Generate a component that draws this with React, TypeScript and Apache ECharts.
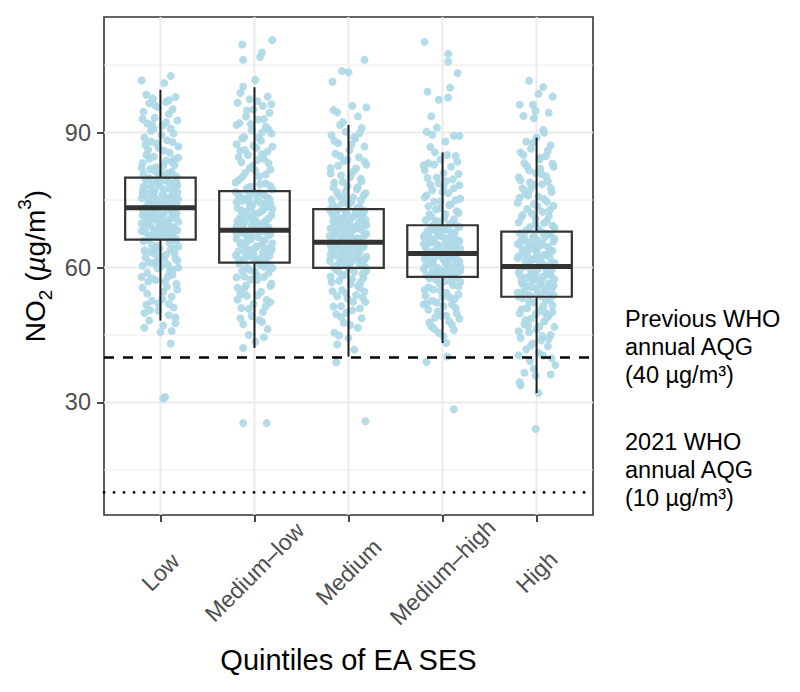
import React, { useEffect, useRef } from 'react';
import * as echarts from 'echarts';

const categories = ['Low', 'Medium–low', 'Medium', 'Medium–high', 'High'];

// Box statistics per category
const lowerWhisker = [48.2, 42.1, 40.2, 43.2, 32.1];
const q1 = [66.2, 61.1, 59.9, 57.9, 53.5];
const median = [73.3, 68.3, 65.6, 63.1, 60.2];
const q3 = [80.0, 77.0, 73.0, 69.4, 68.0];
const upperWhisker = [99.5, 100.1, 91.7, 85.6, 88.9];

const yTicks = [30, 60, 90];
const yMinor = [15, 45, 75, 105];
const xTicks = [1, 2, 3, 4, 5];
const whoPrevious = 40;
const who2021 = 10;

// jittered points: [horizontal jitter in hundredths of a category, NO2 value]
const lowPts = [
  [-20, 101.6], [11, 102.6], [4, 101.0], [-15, 98.4], [-8, 97.6], [16, 97.9], [-12, 96.5], [6, 96.8], [-3, 95.7], [13, 95.2],
  [-18, 94.6], [9, 94.1], [-6, 93.3], [18, 92.7], [-14, 92.0], [2, 91.5], [-10, 90.4], [14, 89.8], [-17, 88.9], [7, 88.3],
  [-4, 87.6], [19, 86.9], [-13, 86.2], [10, 85.5], [-7, 84.7], [15, 84.1], [-19, 83.2], [3, 82.6], [-11, 81.9], [12, 81.3],
  [-2, 80.6], [17, 80.2],
  [-16, 79.7], [5, 79.4], [-9, 79.0], [14, 78.6], [-1, 78.3], [-18, 77.9], [10, 77.5], [-6, 77.1], [18, 76.8], [-13, 76.4],
  [2, 76.1], [12, 75.7], [-20, 75.4], [-4, 75.0], [8, 74.7], [16, 74.4], [-11, 74.1], [0, 73.8], [-15, 73.5], [6, 73.9],
  [-8, 76.6], [15, 77.8], [-3, 79.2], [19, 75.2], [-17, 78.1], [11, 73.6], [-12, 79.9], [3, 74.6], [-19, 76.9], [9, 78.9],
  [-14, 73.0], [7, 72.7], [-5, 72.3], [17, 72.0], [-19, 71.6], [1, 71.3], [11, 70.9], [-10, 70.6], [19, 70.2], [-2, 69.9],
  [-16, 69.5], [8, 69.2], [14, 68.8], [-7, 68.5], [-20, 68.1], [4, 67.8], [12, 67.4], [-12, 67.1], [-1, 66.8], [16, 66.5],
  [-9, 71.9], [5, 70.4], [-17, 72.5], [13, 69.0], [-4, 67.6], [18, 68.3], [-13, 70.0], [9, 66.3], [-6, 73.1], [2, 69.6],
  [-18, 65.9], [10, 65.4], [-3, 64.8], [15, 64.2], [-11, 63.5], [6, 62.9], [-16, 62.2], [18, 61.6], [-7, 60.9], [1, 60.3],
  [13, 59.5], [-14, 58.8], [8, 58.0], [-5, 57.2], [17, 56.4], [-19, 55.5], [3, 54.6], [12, 53.5], [-9, 52.6], [-15, 51.7],
  [14, 51.1], [-2, 50.4], [9, 49.4], [-12, 48.2], [16, 47.6], [0, 45.6], [11, 43.1], [-17, 46.6], [5, 31.2], [3, 30.9],
  [-6, 63.9], [19, 60.0], [-20, 57.9], [7, 55.7],
  [-10, 88.0], [4, 86.0], [-15, 85.0], [12, 83.5], [-5, 82.3], [8, 81.0], [-18, 80.8], [17, 79.1], [-8, 74.3], [13, 72.2],
  [-14, 71.0], [4, 68.0], [-9, 65.0], [15, 63.0], [-4, 61.5], [10, 59.2], [-13, 56.9], [2, 53.0], [-7, 90.8], [6, 92.3],
  [-1, 62.5], [17, 66.0],
  [-19, 93.0], [-9, 91.8], [1, 89.5], [11, 90.9], [-16, 87.3], [-2, 86.6], [13, 87.9], [19, 84.4], [-12, 84.2], [6, 83.8],
  [-20, 82.1], [-6, 81.5], [15, 82.8], [1, 80.9], [-14, 79.6], [9, 80.4], [-3, 78.8], [18, 78.3], [-10, 77.7], [4, 77.3],
  [-18, 76.3], [13, 76.2], [-7, 75.8], [7, 75.5], [-13, 74.9], [17, 74.0], [-1, 73.4], [-19, 72.9], [12, 72.6], [-9, 72.1],
  [3, 71.8], [-15, 71.3], [16, 71.1], [-5, 70.7], [8, 70.1], [-20, 69.8], [-11, 69.3], [1, 68.9], [15, 68.6], [-3, 68.2],
  [-16, 67.9], [10, 67.7], [-8, 67.0], [6, 66.7], [-13, 66.2], [19, 64.6], [-1, 64.3], [11, 64.0], [-17, 63.8], [-7, 63.1],
  [4, 62.0], [16, 61.9], [-12, 61.2], [8, 60.6], [-19, 60.4], [-3, 59.8], [13, 58.4], [-9, 57.6], [5, 56.9], [18, 55.1],
  [-14, 54.2], [-2, 52.0], [9, 51.9], [-11, 50.5], [16, 48.9], [-17, 49.9], [3, 47.1], [12, 45.9], [-6, 96.1], [9, 97.2],
];

const mediumLowPts = [
  [-13, 109.6], [19, 110.6], [-12, 106.2], [6, 106.8], [8, 107.8], [1, 101.7], [-12, 100.2], [14, 98.0], [-5, 97.4], [-18, 96.6],
  [9, 95.9], [-1, 95.1], [16, 94.4], [-9, 93.6], [4, 92.9], [-16, 92.1], [12, 91.3], [-3, 90.5], [18, 89.8], [-11, 89.0],
  [7, 88.2], [-19, 87.4], [2, 86.6], [14, 85.8], [-7, 85.0], [10, 84.2], [-14, 83.4], [-2, 82.6], [17, 81.8], [-10, 81.0],
  [5, 80.2], [-17, 79.4], [12, 78.7], [-4, 78.0], [19, 77.4], [-8, 77.1], [8, 90.0], [-15, 86.0], [3, 83.9],
  [-20, 76.8], [1, 76.4], [11, 76.0], [-6, 75.6], [16, 75.2], [-13, 74.8], [6, 74.4], [-2, 74.0], [14, 73.6], [-18, 73.2],
  [9, 72.8], [-9, 72.4], [3, 72.0], [18, 71.6], [-15, 71.2], [-4, 70.8], [12, 70.4], [-11, 70.0], [7, 69.6], [-19, 69.2],
  [15, 68.9], [0, 68.6], [-7, 75.0], [10, 73.0], [-16, 70.6], [5, 76.6], [-1, 71.9], [17, 74.2], [-12, 69.8], [13, 68.4],
  [-5, 73.8], [2, 70.2], [-17, 75.9],
  [8, 68.1], [-14, 67.8], [17, 67.5], [-3, 67.1], [4, 66.8], [-19, 66.4], [11, 66.1], [-8, 65.7], [19, 65.4], [-12, 65.0],
  [2, 64.7], [14, 64.3], [-6, 64.0], [-17, 63.6], [9, 63.3], [-1, 62.9], [16, 62.6], [-10, 62.2], [5, 61.9], [-15, 61.5],
  [12, 61.3], [-4, 66.3], [7, 64.9], [-20, 62.7], [18, 63.9], [-9, 67.3], [1, 61.7], [-13, 65.5], [13, 67.9], [-7, 63.1],
  [-16, 60.8], [10, 60.2], [-5, 59.5], [15, 58.8], [-11, 58.0], [3, 57.2], [18, 56.4], [-18, 55.5], [7, 54.6], [-8, 53.7],
  [13, 52.8], [-1, 51.9], [-14, 51.0], [9, 50.1], [17, 52.3], [-3, 49.2], [5, 48.3], [-12, 47.4], [14, 46.3], [-6, 45.0],
  [10, 44.5], [-12, 42.1], [1, 43.5], [-12, 25.4], [13, 25.4], [-19, 57.8], [19, 59.9], [-9, 56.0], [6, 60.5], [-15, 54.0],
  [2, 58.4],
  [-15, 98.8], [3, 97.0], [18, 96.3], [-8, 94.9], [10, 93.0], [-19, 91.7], [-4, 91.9], [15, 90.7], [-13, 88.7], [4, 88.9],
  [-1, 87.1], [19, 86.9], [-10, 86.1], [8, 85.2], [-17, 84.6], [15, 83.2], [-5, 82.1], [1, 81.5], [12, 80.7], [-13, 80.1],
  [-20, 78.9], [6, 78.5], [17, 78.1], [-8, 77.6], [-2, 76.9], [9, 76.3], [-16, 76.1], [14, 75.5], [-10, 75.3], [3, 75.1],
  [-19, 74.5], [11, 74.1], [-4, 73.4], [19, 73.0], [-14, 72.7], [6, 72.3], [-8, 71.4], [15, 70.9], [0, 70.5], [-18, 70.3],
  [10, 69.9], [-3, 69.3], [-12, 68.7], [4, 68.3], [16, 67.2], [-19, 67.6], [-6, 66.6], [9, 65.8], [-15, 65.2], [1, 64.4],
  [18, 64.1], [-10, 63.8], [12, 62.8], [-3, 62.4], [-17, 61.8], [6, 61.1], [14, 60.6], [-8, 60.0], [0, 59.1], [-13, 59.2],
  [10, 57.9], [-4, 57.3], [17, 55.9], [-11, 55.3], [3, 53.8], [-18, 52.9], [12, 51.4], [-6, 50.8], [8, 47.9], [-15, 48.7],
];

const mediumPts = [
  [17, 106.2], [-7, 103.7], [0, 103.4], [-17, 101.3], [19, 95.6], [-16, 95.0], [-12, 94.5], [4, 95.9], [10, 93.6], [-9, 91.7],
  [14, 91.0], [-3, 90.2], [-18, 89.4], [7, 88.6], [-11, 87.7], [17, 86.9], [1, 86.1], [-14, 85.3], [11, 84.5], [-5, 83.7],
  [19, 82.9], [-19, 82.1], [5, 81.3], [-8, 80.5], [13, 79.7], [-15, 78.9], [-1, 78.1], [9, 77.4], [-12, 76.7], [16, 76.0],
  [-4, 75.3], [3, 74.6], [-17, 74.0], [12, 73.4], [-9, 84.8], [6, 89.0],
  [-20, 72.8], [8, 72.5], [-2, 72.2], [15, 71.9], [-13, 71.5], [4, 71.2], [-7, 70.9], [18, 70.6], [-16, 70.3], [11, 70.0],
  [0, 69.6], [-10, 69.3], [6, 69.0], [-19, 68.7], [14, 68.4], [-4, 68.0], [2, 67.7], [-14, 67.4], [17, 67.1], [-8, 66.8],
  [9, 66.5], [-1, 66.2], [-17, 65.9], [13, 65.7], [-5, 71.0], [10, 68.9], [-11, 72.9], [3, 66.6], [19, 69.4], [-15, 67.9],
  [7, 65.4], [-12, 65.1], [16, 64.8], [-3, 64.5], [-18, 64.2], [5, 63.9], [12, 63.6], [-9, 63.3], [0, 63.0], [-15, 62.7],
  [19, 62.4], [-6, 62.1], [9, 61.8], [-20, 61.5], [3, 61.2], [14, 60.9], [-11, 60.6], [-2, 60.3], [18, 60.0], [-7, 64.0],
  [11, 62.2], [-16, 63.6], [1, 61.4], [8, 64.9], [-13, 60.1], [15, 61.0], [-4, 62.9], [-19, 65.0],
  [-14, 59.6], [6, 59.0], [-4, 58.4], [16, 57.7], [-10, 57.0], [2, 56.3], [12, 55.5], [-17, 54.7], [8, 53.9], [-1, 53.1],
  [18, 52.3], [-8, 51.4], [4, 50.5], [-13, 49.6], [14, 48.7], [-5, 47.7], [10, 46.6], [-15, 45.5], [0, 44.3], [-12, 42.9],
  [6, 41.7], [-13, 38.9], [18, 25.8], [-19, 58.0], [13, 56.8], [-7, 55.0], [19, 59.2], [-2, 50.0], [15, 53.3],
  [-6, 92.3], [12, 89.9], [-15, 88.2], [3, 87.3], [-1, 84.0], [17, 83.6], [-11, 82.6], [8, 82.0], [-19, 80.9], [2, 80.1],
  [14, 79.2], [-6, 79.0], [-16, 77.8], [10, 77.9], [-3, 76.9], [18, 76.5], [-10, 75.9], [5, 75.6], [-18, 75.1], [13, 74.9],
  [-7, 74.3], [0, 73.9], [-13, 73.3], [9, 73.2], [17, 72.6], [-3, 72.4], [-17, 71.8], [7, 71.7], [13, 71.1], [-9, 70.7],
  [1, 70.4], [-15, 69.9], [16, 69.8], [-5, 69.2], [8, 68.6], [-12, 68.3], [3, 68.1], [19, 67.5], [-20, 67.0], [-6, 66.9],
  [11, 66.4], [-10, 65.8], [4, 65.2], [16, 64.6], [-14, 64.7], [-2, 64.2], [10, 63.4], [-19, 62.9], [6, 62.6], [-9, 62.0],
  [17, 61.7], [-4, 61.0], [12, 60.4], [-16, 60.2], [1, 59.8], [-11, 59.2], [15, 58.6], [-7, 58.2], [4, 57.4], [-18, 56.7],
  [10, 55.9], [-3, 54.3], [17, 54.6], [-12, 53.6], [5, 52.4], [-16, 51.3], [12, 50.9], [-8, 49.0], [2, 47.2], [-10, 44.9],
];

const mediumHighPts = [
  [-19, 110.2], [6, 107.5], [6, 105.8], [16, 103.2], [8, 100.0], [-16, 99.1], [6, 97.8], [-4, 97.3], [-12, 93.6], [-6, 91.1],
  [-17, 90.2], [-11, 89.5], [12, 89.3], [18, 89.3], [3, 88.0], [-8, 85.6], [14, 84.8], [-2, 84.0], [-15, 83.2], [9, 82.4],
  [-19, 81.6], [17, 80.8], [-6, 80.0], [4, 79.2], [-13, 78.4], [12, 77.6], [0, 76.8], [-17, 76.0], [19, 75.3], [-9, 74.6],
  [7, 73.9], [-3, 73.2], [15, 72.5], [-14, 71.8], [2, 71.1], [-7, 70.4], [10, 69.8], [-20, 82.7], [1, 78.0],
  [-11, 69.3], [18, 69.0], [-1, 68.7], [6, 68.4], [-16, 68.1], [13, 67.8], [-5, 67.5], [-19, 67.2], [9, 66.9], [2, 66.6],
  [-9, 66.3], [16, 66.0], [-14, 65.7], [4, 65.4], [11, 65.1], [-3, 64.8], [-18, 64.5], [19, 64.2], [-7, 63.9], [7, 63.6],
  [-12, 63.3], [0, 68.9], [14, 64.0], [-15, 66.7], [3, 63.5], [-20, 65.2], [10, 67.6], [-6, 68.2],
  [15, 63.0], [-4, 62.7], [-17, 62.4], [8, 62.1], [1, 61.8], [-10, 61.5], [18, 61.2], [-13, 60.9], [5, 60.6], [12, 60.3],
  [-6, 60.0], [-20, 59.7], [3, 59.4], [16, 59.1], [-9, 58.8], [10, 58.5], [-2, 58.2], [-15, 58.0], [7, 62.9], [-11, 61.0],
  [19, 60.1], [-1, 59.0], [13, 61.6], [-18, 60.4],
  [-14, 57.6], [9, 57.0], [-3, 56.4], [17, 55.8], [-10, 55.1], [4, 54.4], [-18, 53.7], [13, 53.0], [-6, 52.2], [1, 51.4],
  [-15, 50.6], [15, 49.8], [-8, 48.9], [7, 48.0], [-12, 47.0], [12, 46.1], [-4, 45.5], [4, 43.2], [5, 40.2], [-17, 39.0],
  [12, 28.5], [19, 56.8], [-19, 55.0], [0, 53.5], [10, 51.8], [-1, 49.2],
  [-13, 86.8], [5, 85.0], [16, 83.5], [-9, 82.9], [1, 81.0], [-16, 79.9], [11, 79.6], [-4, 78.7], [18, 78.3], [-11, 77.2],
  [6, 76.5], [-19, 75.6], [14, 75.0], [-2, 74.8], [9, 74.0], [-15, 73.6], [-7, 72.9], [17, 72.1], [3, 71.9], [-12, 71.3],
  [12, 70.7], [-18, 70.5], [-4, 70.1], [7, 69.6], [16, 69.2], [-9, 68.7], [1, 68.4], [-14, 67.9], [12, 67.3], [-2, 67.0],
  [-20, 66.8], [8, 66.4], [18, 65.9], [-12, 65.6], [-6, 65.1], [5, 64.7], [14, 64.4], [-16, 63.8], [0, 63.2], [10, 62.5],
  [-8, 62.3], [-19, 61.9], [17, 61.5], [3, 61.1], [-13, 60.7], [9, 60.0], [-4, 59.6], [19, 59.3], [-11, 59.0], [6, 58.7],
  [-17, 58.3], [14, 57.8], [-7, 57.3], [2, 56.9], [11, 56.1], [-15, 55.6], [-2, 54.9], [17, 54.0], [8, 53.3], [-11, 52.6],
  [-20, 51.8], [14, 51.0], [-5, 50.2], [4, 49.3], [-14, 47.8], [10, 47.3], [-9, 46.4], [1, 44.7], [18, 48.6], [-17, 52.0],
];

const highPts = [
  [-8, 101.5], [7, 100.1], [17, 98.0], [2, 98.6], [-18, 96.2], [-4, 96.2], [-1, 94.8], [13, 94.4], [-14, 93.7], [-3, 93.2],
  [7, 90.6], [8, 90.0], [0, 88.9], [-11, 88.0], [15, 87.2], [-6, 86.4], [-17, 85.6], [10, 84.8], [3, 84.0], [-13, 83.2],
  [18, 82.4], [-8, 81.6], [5, 80.8], [-19, 80.0], [12, 79.2], [-2, 78.4], [-15, 77.6], [16, 76.8], [-9, 76.0], [8, 75.2],
  [-20, 74.4], [1, 73.6], [14, 72.8], [-5, 72.0], [-16, 71.2], [11, 70.4], [-1, 69.6], [19, 68.8], [-11, 68.2], [4, 82.0],
  [-7, 78.9],
  [6, 67.9], [-18, 67.6], [15, 67.3], [-3, 67.0], [9, 66.7], [-13, 66.4], [1, 66.1], [18, 65.8], [-8, 65.5], [-20, 65.2],
  [4, 64.9], [12, 64.6], [-5, 64.3], [-15, 64.0], [17, 63.7], [0, 63.4], [-10, 63.1], [8, 62.8], [-19, 62.5], [14, 62.2],
  [-2, 61.9], [-12, 61.6], [5, 61.3], [19, 61.0], [-7, 60.7], [10, 60.4], [-16, 66.0], [3, 62.0], [-1, 65.0],
  [-14, 60.1], [2, 59.8], [16, 59.5], [-6, 59.2], [-19, 58.9], [11, 58.6], [-1, 58.3], [7, 58.0], [-11, 57.7], [19, 57.4],
  [-4, 57.1], [-16, 56.8], [13, 56.5], [4, 56.2], [-9, 55.9], [17, 55.6], [0, 55.3], [-13, 55.0], [9, 54.7], [-20, 54.4],
  [14, 54.1], [-7, 53.8], [5, 53.6], [-2, 57.5], [12, 55.8], [-17, 58.1], [18, 53.9],
  [-15, 53.2], [10, 52.7], [-3, 52.2], [17, 51.6], [-10, 51.0], [3, 50.4], [-18, 49.8], [13, 49.2], [-6, 48.6], [8, 48.0],
  [-13, 47.4], [19, 46.8], [0, 46.2], [-8, 45.6], [15, 45.0], [-17, 44.4], [5, 43.8], [-4, 43.1], [12, 42.5], [-11, 41.8],
  [2, 41.1], [-19, 40.5], [16, 39.8], [-7, 39.2], [20, 38.3], [-3, 37.5], [-13, 36.6], [15, 36.2], [-1, 36.0], [-18, 34.5],
  [-17, 33.8], [2, 32.1], [-1, 24.1], [9, 50.0], [-9, 47.0], [6, 44.8],
  [-4, 87.7], [12, 86.0], [-14, 85.0], [4, 84.4], [17, 83.1], [-10, 82.5], [-1, 81.0], [10, 80.3], [-17, 79.4], [6, 78.5],
  [-7, 77.3], [15, 77.7], [-12, 76.4], [2, 75.8], [-18, 75.5], [11, 74.6], [-3, 74.1], [18, 73.7], [-10, 73.0], [6, 72.4],
  [-15, 71.7], [13, 71.4], [-1, 70.9], [-19, 70.0], [8, 69.9], [17, 69.3], [-7, 69.0], [2, 68.5], [-13, 67.8], [12, 67.5],
  [-4, 66.8], [19, 66.4], [-17, 65.6], [6, 65.3], [-9, 64.8], [14, 63.9], [0, 63.7], [-14, 63.3], [10, 62.9], [-20, 62.1],
  [-5, 61.8], [16, 60.8], [3, 60.6], [-11, 60.3], [-18, 59.6], [11, 59.3], [-2, 58.8], [15, 58.3], [-8, 57.9], [5, 57.0],
  [-15, 56.4], [18, 56.0], [-5, 55.7], [9, 55.1], [-12, 54.5], [1, 54.2], [-19, 53.5], [14, 52.9], [-8, 52.4], [7, 51.5],
  [-16, 50.7], [17, 50.1], [-1, 49.6], [11, 48.8], [-12, 48.3], [3, 46.9], [-19, 45.8], [13, 44.1], [-6, 42.6], [7, 40.4],
];

const groupPoints = [lowPts, mediumLowPts, mediumPts, mediumHighPts, highPts];

const FONT = '"Liberation Sans", Arial, Helvetica, sans-serif';

export default function App() {
  const ref = useRef<HTMLDivElement>(null);

  useEffect(() => {
    if (!ref.current) return;
    const chart = echarts.init(ref.current, null, { renderer: 'svg' });

    const scatterData: number[][] = [];
    groupPoints.forEach((pts, i) => {
      pts.forEach(([dx, v]) => scatterData.push([i + 1 + dx / 100, v]));
    });

    const boxData = categories.map((_, i) => [
      i + 1, lowerWhisker[i], q1[i], median[i], q3[i], upperWhisker[i],
    ]);

    const hLine = (color: string, width: number, dash?: number[], cap?: string) =>
      (params: any, api: any) => {
        const cs = params.coordSys;
        const y = api.coord([1, api.value(1)])[1];
        return {
          type: 'line',
          shape: { x1: cs.x, y1: y, x2: cs.x + cs.width, y2: y },
          style: { stroke: color, lineWidth: width, lineDash: dash, lineCap: cap || 'butt' },
        };
      };

    const vLine = (color: string, width: number) => (params: any, api: any) => {
      const cs = params.coordSys;
      const x = api.coord([api.value(0), 60])[0];
      return {
        type: 'line',
        shape: { x1: x, y1: cs.y, x2: x, y2: cs.y + cs.height },
        style: { stroke: color, lineWidth: width },
      };
    };

    const option: any = {
      animation: false,
      backgroundColor: '#ffffff',
      grid: {
        left: 104, top: 17, width: 489, height: 498,
        show: true, borderColor: '#333333', borderWidth: 1.6, backgroundColor: 'transparent',
      },
      xAxis: {
        type: 'value',
        min: 0.4,
        max: 5.6,
        axisLine: { show: false },
        splitLine: { show: false },
        axisTick: {
          show: true, customValues: xTicks, length: 7, inside: false,
          lineStyle: { color: '#333333', width: 1.8 },
        },
        axisLabel: {
          customValues: xTicks,
          formatter: (v: number) => categories[Math.round(v) - 1] || '',
          rotate: 45,
          align: 'center',
          verticalAlign: 'middle',
          margin: 57,
          fontSize: 23,
          color: '#4d4d4d',
          fontFamily: FONT,
        },
        name: 'Quintiles of EA SES',
        nameLocation: 'middle',
        nameGap: 130,
        nameTextStyle: { fontSize: 29, color: '#000000', fontFamily: FONT },
      },
      yAxis: {
        type: 'value',
        min: 4.97,
        max: 115.7,
        axisLine: { show: false },
        splitLine: { show: false },
        axisTick: {
          show: true, customValues: yTicks, length: 7,
          lineStyle: { color: '#333333', width: 1.8 },
        },
        axisLabel: {
          customValues: yTicks,
          margin: 13,
          fontSize: 23.5,
          color: '#4d4d4d',
          fontFamily: FONT,
        },
      },
      series: [
        {
          type: 'custom', z: 0, silent: true,
          data: yMinor.map((v) => [1, v]),
          encode: { x: 0, y: 1 },
          renderItem: hLine('#ebebeb', 1),
        },
        {
          type: 'custom', z: 0, silent: true,
          data: yTicks.map((v) => [1, v]),
          encode: { x: 0, y: 1 },
          renderItem: hLine('#ebebeb', 2),
        },
        {
          type: 'custom', z: 0, silent: true,
          data: xTicks.map((v) => [v, 60]),
          encode: { x: 0, y: 1 },
          renderItem: vLine('#ebebeb', 2),
        },
        {
          type: 'scatter', z: 2, silent: true,
          symbol: 'circle', symbolSize: 8,
          itemStyle: { color: '#add8e6', opacity: 0.92 },
          data: scatterData,
        },
        {
          type: 'custom', z: 3, silent: true,
          data: boxData,
          encode: { x: 0, y: [1, 2, 3, 4, 5] },
          renderItem: (params: any, api: any) => {
            const x = api.value(0);
            const lo = api.coord([x, api.value(1)]);
            const b1 = api.coord([x, api.value(2)]);
            const md = api.coord([x, api.value(3)]);
            const b3 = api.coord([x, api.value(4)]);
            const hi = api.coord([x, api.value(5)]);
            const w = api.size([0.75, 0])[0];
            const cx = lo[0];
            const left = cx - w / 2;
            return {
              type: 'group',
              children: [
                { type: 'line', shape: { x1: cx, y1: b3[1], x2: cx, y2: hi[1] }, style: { stroke: '#1f1f1f', lineWidth: 2 } },
                { type: 'line', shape: { x1: cx, y1: b1[1], x2: cx, y2: lo[1] }, style: { stroke: '#1f1f1f', lineWidth: 2 } },
                { type: 'rect', shape: { x: left, y: b3[1], width: w, height: b1[1] - b3[1] }, style: { fill: 'none', stroke: '#333333', lineWidth: 2.2 } },
                { type: 'line', shape: { x1: left, y1: md[1], x2: left + w, y2: md[1] }, style: { stroke: '#333333', lineWidth: 5 } },
              ],
            };
          },
        },
        {
          type: 'custom', z: 4, silent: true,
          data: [[1, whoPrevious]],
          encode: { x: 0, y: 1 },
          renderItem: hLine('#000000', 2.4, [10, 9]),
        },
        {
          type: 'custom', z: 4, silent: true,
          data: [[1, who2021]],
          encode: { x: 0, y: 1 },
          renderItem: hLine('#000000', 2.8, [0.1, 9.9], 'round'),
        },
      ],
      graphic: [
        {
          type: 'text',
          x: 35,
          y: 266,
          rotation: Math.PI / 2,
          style: {
            text: '{n|NO}{s|2}{n| (}{i|µ}{n|g/m}{p|3}{n|)}',
            align: 'center',
            verticalAlign: 'middle',
            fill: '#000000',
            rich: {
              n: { fontSize: 28, fontFamily: FONT, lineHeight: 40, verticalAlign: 'middle', fill: '#000000' },
              i: { fontSize: 28, fontFamily: FONT, fontStyle: 'italic', lineHeight: 40, verticalAlign: 'middle', fill: '#000000' },
              s: { fontSize: 19, fontFamily: FONT, lineHeight: 20, verticalAlign: 'bottom', fill: '#000000' },
              p: { fontSize: 19, fontFamily: FONT, lineHeight: 20, verticalAlign: 'top', fill: '#000000' },
            },
          },
        },
        {
          type: 'text',
          x: 625,
          y: 347,
          style: {
            text: 'Previous WHO\nannual AQG\n(40 µg/m³)',
            fontSize: 23.5,
            lineHeight: 28,
            fontFamily: FONT,
            fill: '#000000',
            align: 'left',
            verticalAlign: 'middle',
          },
        },
        {
          type: 'text',
          x: 625,
          y: 470,
          style: {
            text: '2021 WHO\nannual AQG\n(10 µg/m³)',
            fontSize: 23.5,
            lineHeight: 28,
            fontFamily: FONT,
            fill: '#000000',
            align: 'left',
            verticalAlign: 'middle',
          },
        },
      ],
    };

    chart.setOption(option);
    return () => chart.dispose();
  }, []);

  return (
    <div
      ref={ref}
      style={{ position: 'absolute', left: 0, top: 0, width: 800, height: 692, background: '#fff' }}
    />
  );
}
